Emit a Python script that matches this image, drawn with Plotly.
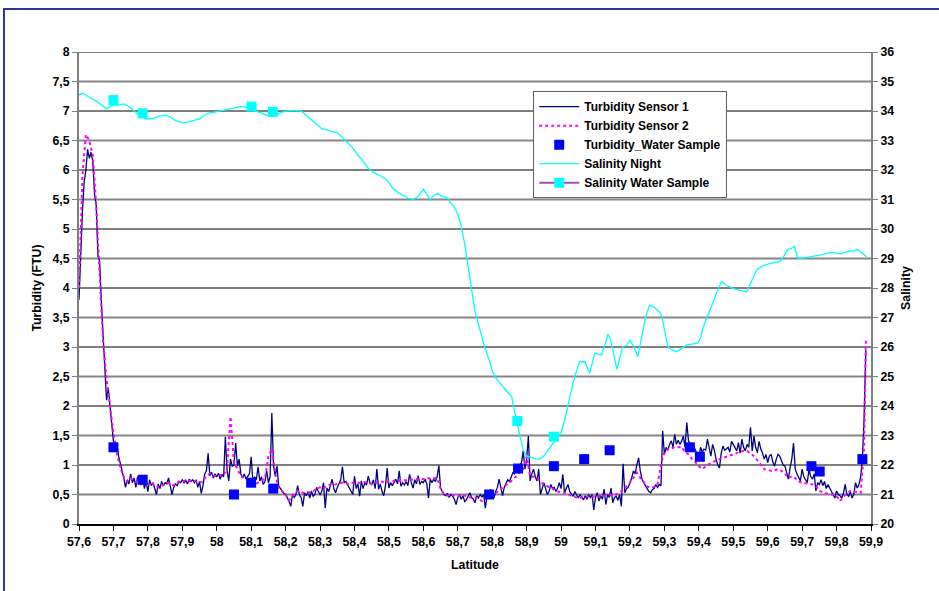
import numpy as np
import plotly.graph_objects as go

# ---- Turbidity sensor 1 (FTU), sampled every 0.005 deg latitude from 57.600 ----
sensor1_start = 57.600
sensor1_step = 0.005
sensor1_ftu = [
    3.8, 4.6, 5.3, 5.8, 6.0, 6.35, 6.2, 6.3, 6.15, 5.6,
    5.4, 4.55, 4.45, 3.75, 3.2, 2.6, 2.1, 2.3, 2.0, 1.65,
    1.4, 1.38, 1.35, 1.15, 1.0, 0.9, 0.78, 0.62, 0.75, 0.68,
    0.85, 0.7, 0.78, 0.62, 0.8, 0.72, 0.66, 0.78, 0.6, 0.72,
    0.55, 0.75, 0.65, 0.7, 0.6, 0.5, 0.68, 0.6, 0.72, 0.65,
    0.7, 0.68, 0.78, 0.62, 0.5, 0.62, 0.68, 0.65, 0.72, 0.7,
    0.75, 0.7, 0.74, 0.68, 0.76, 0.72, 0.75, 0.7, 0.75, 0.62,
    0.72, 0.52, 0.65, 0.85, 0.9, 1.2, 0.82, 0.88, 0.78, 0.85,
    0.8, 0.86, 0.76, 0.84, 0.8, 1.48, 0.9, 0.73, 1.1, 0.98,
    1.0, 1.37, 0.98, 1.1, 0.85, 0.78, 0.85, 0.76, 0.8, 0.85,
    1.14, 0.73, 0.8, 0.75, 0.97, 0.73, 0.8, 0.67, 0.72, 0.9,
    0.7, 0.8, 1.88, 0.98, 0.81, 0.98, 0.64, 0.6, 0.55, 0.52,
    0.5, 0.45, 0.38, 0.3, 0.5, 0.45, 0.5, 0.65, 0.5, 0.45,
    0.3, 0.53, 0.48, 0.55, 0.44, 0.56, 0.47, 0.5, 0.62, 0.55,
    0.5, 0.55, 0.7, 0.27, 0.61, 0.55, 0.68, 0.76, 0.6, 0.53,
    0.62, 0.7, 0.75, 0.97, 0.7, 0.72, 0.67, 0.6, 0.55, 0.5,
    0.81, 0.6, 0.68, 0.47, 0.73, 0.6, 0.7, 0.66, 0.81, 0.7,
    0.67, 0.75, 0.6, 0.93, 0.59, 0.68, 0.55, 0.48, 0.65, 0.95,
    0.61, 0.7, 0.65, 0.72, 0.76, 0.68, 0.9, 0.64, 0.7, 0.66,
    0.72, 0.65, 0.84, 0.7, 0.61, 0.75, 0.68, 0.82, 0.67, 0.72,
    0.7, 0.76, 0.68, 0.44, 0.76, 0.7, 0.76, 0.72, 0.8, 0.99,
    0.61, 0.55, 0.5, 0.48, 0.52, 0.45, 0.5, 0.47, 0.42, 0.33,
    0.45, 0.5, 0.42, 0.48, 0.38, 0.41, 0.47, 0.53, 0.45, 0.42,
    0.36, 0.48, 0.44, 0.5, 0.46, 0.5, 0.27, 0.48, 0.53, 0.59,
    0.5, 0.44, 0.55, 0.62, 0.76, 0.6, 0.48, 0.62, 0.7, 0.75,
    0.72, 0.81, 0.87, 0.85, 0.95, 0.9, 1.0, 1.04, 1.24, 0.93,
    1.1, 1.49, 0.73, 0.85, 0.93, 0.8, 0.73, 0.93, 0.5, 0.6,
    0.7, 0.6, 0.5, 0.55, 0.67, 0.6, 0.62, 0.55, 0.61, 0.7,
    0.6, 0.84, 0.53, 0.6, 0.67, 0.55, 0.5, 0.47, 0.55, 0.5,
    0.44, 0.5, 0.45, 0.41, 0.48, 0.42, 0.5, 0.45, 0.5, 0.24,
    0.45, 0.53, 0.39, 0.48, 0.42, 0.59, 0.33, 0.5, 0.45, 0.61,
    0.36, 0.45, 0.47, 0.4, 0.5, 0.3, 1.02, 0.53, 0.6, 0.62,
    0.7, 0.78, 0.9, 0.85, 1.0, 1.12, 0.9, 0.76, 0.7, 0.64,
    0.6, 0.55, 0.53, 0.58, 0.6, 0.67, 0.62, 0.67, 0.65, 1.58,
    1.18, 1.3, 1.25, 1.35, 1.41, 1.3, 1.52, 1.35, 1.42, 1.35,
    1.4, 1.49, 1.3, 1.72, 1.41, 1.35, 1.28, 1.32, 1.25, 1.2,
    1.12, 1.3, 1.22, 1.27, 1.25, 1.44, 1.3, 1.15, 1.35, 1.25,
    1.1, 1.0, 0.95, 1.2, 1.32, 1.25, 1.27, 1.3, 1.22, 1.4,
    1.35, 1.3, 1.24, 1.38, 1.2, 1.44, 1.3, 1.24, 1.35, 1.3,
    1.64, 1.24, 1.49, 1.3, 1.21, 1.4, 1.27, 1.2, 1.1, 1.18,
    1.04, 1.15, 1.18, 1.05, 0.98, 1.1, 1.18, 1.15, 1.07, 1.0,
    0.98, 0.85, 0.76, 0.95, 1.1, 1.37, 0.93, 0.85, 0.78, 0.73,
    0.93, 0.8, 0.75, 0.7, 0.93, 0.8, 0.76, 0.85, 0.56, 0.7,
    0.67, 0.75, 0.65, 0.72, 0.6, 0.67, 0.61, 0.55, 0.5, 0.44,
    0.56, 0.5, 0.48, 0.44, 0.52, 0.67, 0.5, 0.47, 0.55, 0.44,
    0.5, 0.7, 0.61, 0.67, 0.8, 1.1, 1.8, 2.95,
]

# ---- Turbidity sensor 2 (FTU), every 0.01 deg from 57.60, plus the final reading ----
sensor2_start = 57.60
sensor2_step = 0.01
sensor2_ftu = [
    4.0, 5.9, 6.6, 6.5, 6.25, 5.4, 4.2, 3.1, 2.45, 2.0,
    1.55, 1.2, 0.95, 0.8, 0.72, 0.78, 0.72, 0.7, 0.72, 0.68,
    0.68, 0.7, 0.66, 0.62, 0.64, 0.68, 0.7, 0.65, 0.67, 0.72,
    0.72, 0.74, 0.73, 0.75, 0.72, 0.7, 0.72, 0.82, 0.85, 0.82,
    0.81, 0.83, 0.82, 0.95, 1.82, 1.05, 0.93, 0.81, 0.78, 0.76,
    0.72, 0.67, 0.7, 0.74, 0.76, 1.15, 1.27, 0.85, 0.61, 0.55,
    0.5, 0.4, 0.48, 0.55, 0.56, 0.53, 0.52, 0.53, 0.55, 0.6,
    0.62, 0.6, 0.65, 0.67, 0.66, 0.68, 0.7, 0.7, 0.68, 0.7,
    0.7, 0.69, 0.7, 0.71, 0.7, 0.68, 0.7, 0.7, 0.72, 0.7,
    0.72, 0.73, 0.74, 0.73, 0.75, 0.74, 0.76, 0.75, 0.76, 0.77,
    0.76, 0.78, 0.77, 0.78, 0.78, 0.6, 0.5, 0.48, 0.5, 0.48,
    0.47, 0.5, 0.48, 0.46, 0.44, 0.45, 0.43, 0.39, 0.42, 0.45,
    0.48, 0.52, 0.57, 0.62, 0.66, 0.7, 0.75, 0.81, 0.88, 0.93,
    1.15, 0.81, 0.8, 0.78, 0.72, 0.67, 0.64, 0.61, 0.58, 0.55,
    0.54, 0.53, 0.5, 0.48, 0.46, 0.44, 0.45, 0.46, 0.47, 0.46,
    0.47, 0.48, 0.47, 0.49, 0.48, 0.5, 0.5, 0.53, 0.58, 0.64,
    0.7, 0.78, 0.87, 0.78, 0.7, 0.64, 0.61, 0.63, 0.67, 1.0,
    1.22, 1.27, 1.28, 1.3, 1.3, 1.31, 1.22, 1.18, 1.1, 1.05,
    0.98, 0.93, 0.98, 1.02, 1.04, 1.08, 1.1, 1.12, 1.14, 1.16,
    1.18, 1.2, 1.22, 1.24, 1.24, 1.2, 1.15, 1.08, 1.0, 0.93,
    0.92, 0.9, 0.91, 0.93, 0.9, 0.85, 0.78, 0.81, 0.78, 0.72,
    0.7, 0.69, 0.68, 0.67, 0.64, 0.56, 0.54, 0.52, 0.5, 0.5,
    0.47, 0.39, 0.45, 0.52, 0.56, 0.55, 0.53, 0.53, 1.3,
]
sensor2_last_lat = 59.885
sensor2_last_ftu = 3.12

# ---- Turbidity of water samples ----
turb_sample_lat = [57.70, 57.785, 58.05, 58.10, 58.164, 58.791, 58.875, 58.979,
                   59.067, 59.141, 59.374, 59.403, 59.727, 59.751, 59.875]
turb_sample_ftu = [1.3, 0.75, 0.5, 0.7, 0.6, 0.5, 0.94, 0.98,
                   1.1, 1.25, 1.3, 1.14, 0.98, 0.89, 1.1]

# ---- Salinity recorded at night ----
salinity_lat = [
    57.600, 57.610, 57.625, 57.640, 57.655, 57.670, 57.680, 57.690, 57.700, 57.715,
    57.730, 57.745, 57.760, 57.775, 57.790, 57.800, 57.815, 57.830, 57.850, 57.865,
    57.880, 57.900, 57.915, 57.935, 57.950, 57.960, 57.975, 57.990, 58.010, 58.030,
    58.050, 58.070, 58.085, 58.097, 58.110, 58.125, 58.145, 58.163, 58.180, 58.200,
    58.225, 58.245, 58.260, 58.275, 58.290, 58.305, 58.320, 58.335, 58.350, 58.365,
    58.380, 58.395, 58.410, 58.425, 58.440, 58.455, 58.465, 58.480, 58.495, 58.510,
    58.525, 58.540, 58.555, 58.570, 58.585, 58.600, 58.612, 58.620, 58.632, 58.642,
    58.655, 58.668, 58.678, 58.690, 58.700, 58.710, 58.720, 58.728, 58.735, 58.742,
    58.750, 58.764, 58.778, 58.790, 58.800, 58.810, 58.820, 58.835, 58.850, 58.857,
    58.862, 58.868, 58.875, 58.882, 58.890, 58.900, 58.915, 58.932, 58.945, 58.955,
    58.965, 58.975, 58.990, 59.000, 59.010, 59.020, 59.035, 59.045, 59.054, 59.069,
    59.083, 59.098, 59.108, 59.118, 59.128, 59.136, 59.145, 59.155, 59.162, 59.170,
    59.179, 59.190, 59.200, 59.212, 59.223, 59.235, 59.245, 59.257, 59.270, 59.285,
    59.292, 59.300, 59.310, 59.322, 59.336, 59.350, 59.365, 59.380, 59.397, 59.405,
    59.410, 59.420, 59.437, 59.450, 59.466, 59.480, 59.498, 59.520, 59.539, 59.550,
    59.568, 59.585, 59.606, 59.620, 59.635, 59.648, 59.658, 59.670, 59.678, 59.687,
    59.710, 59.730, 59.755, 59.780, 59.795, 59.810, 59.825, 59.838, 59.850, 59.861,
    59.875, 59.887,
]
salinity_night = [
    34.55, 34.6, 34.5, 34.4, 34.3, 34.15, 34.08, 34.15, 34.2, 34.2,
    34.24, 34.15, 34.0, 33.85, 33.75, 33.73, 33.75, 33.82, 33.86, 33.8,
    33.68, 33.6, 33.62, 33.68, 33.73, 33.82, 33.93, 33.95, 34.0, 34.07,
    34.12, 34.15, 34.12, 34.1, 34.0, 33.95, 33.85, 33.81, 33.9, 34.0,
    34.02, 34.0, 33.85, 33.7, 33.58, 33.4, 33.36, 33.3, 33.27, 33.1,
    32.95, 32.75, 32.5, 32.3, 32.06, 31.92, 31.86, 31.78, 31.65, 31.4,
    31.25, 31.15, 31.05, 31.0, 31.1, 31.35, 31.15, 31.0, 31.15, 31.2,
    31.1, 31.07, 30.9, 30.75, 30.5, 30.1, 29.5, 28.9, 28.3, 27.8,
    27.2, 26.6, 26.0, 25.6, 25.2, 24.95, 24.8, 24.6, 24.4, 24.3,
    23.95, 23.6, 23.3, 22.9, 22.5, 22.3, 22.25, 22.19, 22.25, 22.38,
    22.55, 22.72, 22.95, 23.1, 23.5, 24.05, 24.8, 25.2, 25.5, 25.5,
    25.11, 25.79, 25.75, 25.73, 26.1, 26.44, 26.2, 25.6, 25.24, 25.6,
    26.01, 26.05, 26.24, 26.0, 25.67, 26.4, 27.0, 27.42, 27.35, 27.2,
    27.08, 26.6, 26.01, 25.9, 25.84, 25.95, 26.07, 26.1, 26.12, 26.3,
    26.58, 26.9, 27.37, 27.8, 28.21, 28.1, 27.99, 27.92, 27.87, 28.15,
    28.61, 28.75, 28.84, 28.88, 28.89, 29.1, 29.31, 29.35, 29.42, 29.0,
    29.03, 29.06, 29.12, 29.2, 29.2, 29.15, 29.22, 29.26, 29.25, 29.31,
    29.18, 29.06,
]

# ---- Salinity of water samples ----
sal_sample_lat = [57.70, 57.785, 58.101, 58.163, 58.873, 58.979]
sal_sample_val = [34.37, 33.92, 34.15, 33.97, 23.49, 22.96]

# ---- Axis ticks ----
turb_ticks = [i * 0.5 for i in range(17)]        # 0 .. 8
sal_ticks = list(range(20, 37))                   # 20 .. 36
lat_ticks = [round(57.6 + 0.1 * i, 1) for i in range(24)]  # 57.6 .. 59.9

# Latitude grids for the sensor series
lat1 = np.round(sensor1_start + sensor1_step * np.arange(len(sensor1_ftu)), 3)
lat2 = np.round(sensor2_start + sensor2_step * np.arange(len(sensor2_ftu)), 3)
lat2 = np.append(lat2, sensor2_last_lat)
ftu2 = list(sensor2_ftu) + [sensor2_last_ftu]

# Water-sample salinity: isolated markers (gaps keep points unconnected)
sal_x, sal_y = [], []
for la, s in zip(sal_sample_lat, sal_sample_val):
    sal_x += [la, None]
    sal_y += [s, None]

FONT = "Liberation Sans, Arial, sans-serif"

fig = go.Figure()
fig.add_trace(go.Scatter(x=lat1, y=sensor1_ftu, mode="lines", name="Turbidity Sensor 1",
                         line=dict(color="#000080", width=1.3)))
fig.add_trace(go.Scatter(x=lat2, y=ftu2, mode="lines", name="Turbidity Sensor 2",
                         line=dict(color="#FF00FF", width=2, dash="dot")))
fig.add_trace(go.Scatter(x=turb_sample_lat, y=turb_sample_ftu, mode="markers",
                         name="Turbidity_Water Sample",
                         marker=dict(symbol="square", size=10, color="#0000FF",
                                     line=dict(width=0))))
fig.add_trace(go.Scatter(x=salinity_lat, y=salinity_night, mode="lines", name="Salinity Night",
                         yaxis="y2", line=dict(color="#00FFFF", width=1.3)))
fig.add_trace(go.Scatter(x=sal_x, y=sal_y, mode="lines+markers", name="Salinity Water Sample",
                         yaxis="y2", connectgaps=False,
                         line=dict(color="#A050B0", width=2),
                         marker=dict(symbol="square", size=10, color="#00FFFF",
                                     line=dict(width=0))))

# Horizontal gridlines: whole units dark, half units grey
shapes = []
for v in turb_ticks[1:]:
    whole = abs(v - round(v)) < 1e-9
    shapes.append(dict(type="line", xref="paper", x0=0, x1=1, yref="y", y0=v, y1=v,
                       layer="below",
                       line=dict(color="#000000" if whole else "#858585",
                                 width=1 if whole else 2)))
# Outer chart frame
shapes.append(dict(type="rect", xref="paper", yref="paper",
                   x0=-0.0947, x1=1.2, y0=-0.3, y1=1.0911,
                   line=dict(color="#333399", width=2), layer="below"))

tick_font = dict(family=FONT, size=12.3, color="#000000", weight="bold")

fig.update_layout(
    width=939, height=591,
    margin=dict(l=79, r=68, t=52, b=67),
    paper_bgcolor="white", plot_bgcolor="white",
    separators=", ",
    showlegend=True,
    legend=dict(x=0.5735, y=0.917, xanchor="left", yanchor="top",
                bgcolor="white", bordercolor="#606060", borderwidth=1,
                font=dict(family=FONT, size=12, color="#000000", weight="bold"),
                itemwidth=40, tracegroupgap=0),
    shapes=shapes,
    xaxis=dict(range=[57.6, 59.9], tickvals=lat_ticks, showgrid=False, zeroline=False,
               showline=True, linecolor="#000000", linewidth=1.5,
               ticks="outside", ticklen=5, tickcolor="#000000",
               tickfont=tick_font,
               title=dict(text="Latitude", font=tick_font, standoff=13)),
    yaxis=dict(range=[0, 8], tickvals=turb_ticks, showgrid=False, zeroline=False,
               showline=True, linecolor="#808080", linewidth=2,
               ticks="outside", ticklen=5, tickcolor="#808080",
               tickfont=tick_font,
               title=dict(text="Turbidity (FTU)", font=tick_font, standoff=8)),
    yaxis2=dict(range=[20, 36], tickvals=sal_ticks, overlaying="y", side="right",
                showgrid=False, zeroline=False,
                showline=True, linecolor="#808080", linewidth=2,
                ticks="outside", ticklen=5, tickcolor="#808080",
                tickfont=tick_font,
                title=dict(text="Salinity", font=tick_font, standoff=8)),
)

fig.write_html("out.html")
